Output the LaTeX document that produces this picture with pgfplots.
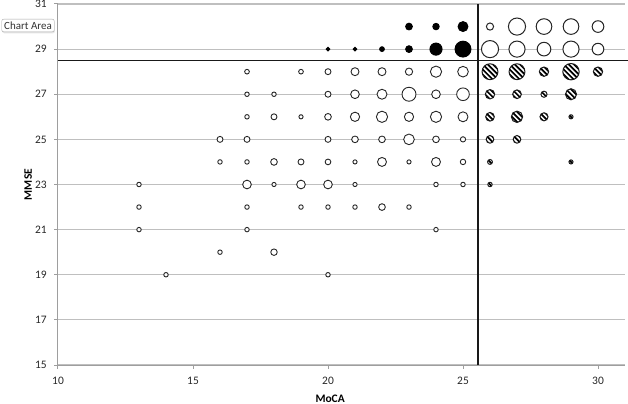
\documentclass[border=0pt]{standalone}
\usepackage{pgfplots}
\pgfplotsset{compat=1.18}
\usepackage{pgfplotstable}
\usepackage{fontspec}
\setmainfont{Carlito}
\usetikzlibrary{shadows}

\pgfdeclareplotmark{hatchcirc}{%
  \pgfpathcircle{\pgfpointorigin}{\pgfplotmarksize}%
  \pgfsetfillcolor{white}%
  \pgfusepathqfill
  \begin{pgfscope}%
    \pgfpathcircle{\pgfpointorigin}{\pgfplotmarksize}%
    \pgfusepathqclip
    \pgfsetlinewidth{1.7bp}%
    \pgfsetstrokecolor{black}%
    \foreach \k in {-4,...,4}{%
      \pgfpathmoveto{\pgfpoint{\k*2.55bp-14bp}{\k*2.55bp+14bp}}%
      \pgfpathlineto{\pgfpoint{\k*2.55bp+14bp}{\k*2.55bp-14bp}}%
      \pgfusepathqstroke
    }%
  \end{pgfscope}%
  \pgfpathcircle{\pgfpointorigin}{\pgfplotmarksize}%
  \pgfusepathqstroke
}

\pgfplotstableread{
x y d
23 30 7.3
24 30 7
25 30 10.5
20 29 4
21 29 4
22 29 5.3
23 29 7.3
24 29 12.7
25 29 16.5
}\filled

\pgfplotstableread{
x y d
26 30 8
27 30 18
28 30 16.5
29 30 16.5
30 30 12.5
26 29 18
27 29 17
28 29 14.5
29 29 17
30 29 12.5
}\topright

\pgfplotstableread{
x y d
26 28 16.5
27 28 16.5
28 28 10
29 28 17
30 28 10
26 27 10
27 27 9.3
28 27 6.7
29 27 11.7
26 26 9.3
27 26 12
28 26 8.7
29 26 4.7
26 25 8.3
27 25 8.3
26 24 5.5
29 24 4.7
26 23 5
}\hatched

\pgfplotstableread{
x y d
17 28 4.7
19 28 4.7
20 28 6
21 28 8
22 28 8
23 28 7.3
24 28 11.3
25 28 10.7
17 27 4.5
18 27 4.5
20 27 6
21 27 8.7
22 27 10
23 27 14
24 27 8.7
25 27 12.7
17 26 4.5
18 26 6
19 26 4.2
20 26 6.7
21 26 9.3
22 26 11.3
23 26 9.3
24 26 11.3
25 26 10
16 25 6
17 25 6
20 25 6
21 25 6.7
22 25 6.7
23 25 10.7
24 25 6.7
25 25 5.3
16 24 4.5
17 24 4.5
18 24 6.7
19 24 6
20 24 5.7
21 24 4.2
22 24 9
23 24 4.2
24 24 9
25 24 5.5
13 23 4.5
17 23 8.7
18 23 4.2
19 23 8.7
20 23 8.7
21 23 4.2
24 23 4.5
25 23 4.5
13 22 4.5
17 22 4.5
19 22 4.5
20 22 4.5
21 22 4.5
22 22 6.7
23 22 4.5
13 21 4.5
17 21 4.5
24 21 4.5
16 20 4.5
18 20 6.5
14 19 4.5
20 19 4.5
}\other

\begin{document}
\begin{tikzpicture}
\begin{axis}[
  name=ax, at={(0,0)}, anchor=south west,
  scale only axis, width=567bp, height=361bp,
  xmin=10, xmax=31, ymin=15, ymax=31,
  xtick={10,15,20,25,30}, ytick={15,17,...,31},
  axis x line*=bottom, axis y line*=left,
  axis line style={draw=black!38, line width=1bp, -},
  ymajorgrids, grid style={draw=black!25, line width=1.2bp},
  tick align=outside, major tick length=3.5bp,
  tick style={draw=black!38, line width=1bp},
  /pgf/number format/assume math mode=true,
  ticklabel style={font=\fontsize{11.5}{13}\selectfont, text=black!85},
  yticklabel style={anchor=east, inner sep=0pt},
  xticklabel style={anchor=north, inner sep=0pt},
  yticklabel shift=7.5bp,
  xticklabel shift=8.5bp,
  xlabel={\textbf{MoCA}},
  ylabel={\textbf{MMSE}},
  xlabel style={at={([yshift=-37bp]axis description cs:0.48,0)}, anchor=base, inner sep=0pt, font=\fontsize{11.5}{13}\selectfont},
  ylabel style={at={([xshift=-26bp]axis description cs:0,0.5)}, anchor=base, inner sep=0pt, font=\fontsize{11.5}{13}\selectfont},
  clip=false,
]
% open bubbles (lower left)
\addplot[scatter, only marks, mark=*,
  visualization depends on={\thisrow{d}/2 \as \rr},
  scatter/use mapped color={draw=black!85, fill=white, line width=0.9bp},
  scatter/@pre marker code/.append style={/tikz/mark size=\rr}]
  table[x=x,y=y]{\other};
% hatched bubbles
\addplot[scatter, only marks, mark=hatchcirc,
  visualization depends on={\thisrow{d}/2-0.3 \as \rr},
  scatter/use mapped color={draw=black!90, line width=1bp},
  scatter/@pre marker code/.append style={/tikz/mark size=\rr}]
  table[x=x,y=y]{\hatched};
% open bubbles top right
\addplot[scatter, only marks, mark=*,
  visualization depends on={\thisrow{d}/2-0.4 \as \rr},
  scatter/use mapped color={draw=black!85, fill=white, line width=1bp},
  scatter/@pre marker code/.append style={/tikz/mark size=\rr}]
  table[x=x,y=y]{\topright};
% filled bubbles
\addplot[scatter, only marks, mark=*,
  visualization depends on={\thisrow{d}/2-0.3 \as \rr},
  scatter/use mapped color={draw=black, fill=black, line width=1bp},
  scatter/@pre marker code/.append style={/tikz/mark size=\rr}]
  table[x=x,y=y]{\filled};
% threshold lines
\addplot[black!90, line width=1.8bp, no marks] coordinates {(10,28.5) (31.11,28.5)};
\addplot[black!90, line width=1.8bp, no marks] coordinates {(25.55,15) (25.55,31)};
\end{axis}
\node[draw=black!35, fill=white, rounded corners=2bp,
  drop shadow={opacity=0.2, shadow xshift=0.6bp, shadow yshift=-1.5bp},
  inner xsep=2.5bp, inner ysep=2.5bp, font=\fontsize{11}{13}\selectfont, text=black!80]
  at (-30bp,339.5bp) {Chart Area};
\pgfresetboundingbox
\path (-58bp,-39bp) rectangle (570bp,365bp);
\end{tikzpicture}
\end{document}
